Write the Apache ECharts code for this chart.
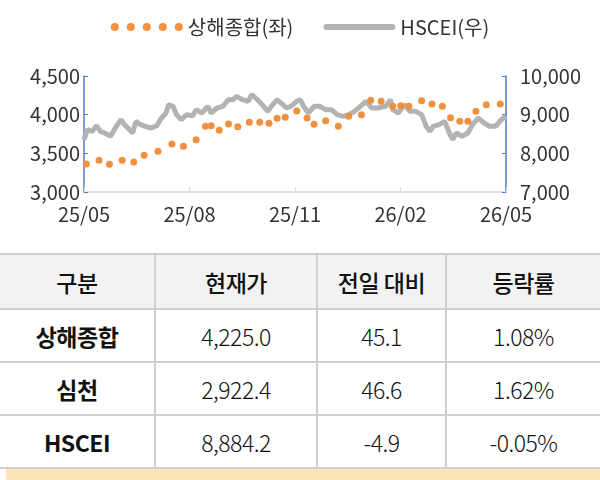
<!DOCTYPE html>
<html>
<head>
<meta charset="utf-8">
<script src="https://cdn.jsdelivr.net/npm/echarts@6/dist/echarts.min.js"></script>
<style>
  body { margin: 0; background: #fff; font-family: "Noto Sans CJK KR", sans-serif; }
  #chart { position: absolute; left: 0; top: 0; width: 600px; height: 245px; }
  #tbl { position: absolute; left: 0; top: 253px; width: 600px; border-collapse: collapse; color: #111; table-layout: fixed; }
  #tbl td, #tbl th { border: 2px solid #cfcfcf; text-align: center; padding: 0; font-size: 23px; letter-spacing: -0.5px; }
  #tbl th { background: #f2f2f2; height: 53px; font-weight: 500; }
  #tbl td { height: 51px; font-weight: 300; }
  #tbl td.name { font-weight: 700; }
  #tbl tr > *:first-child { border-left: none; }
  #tbl tr > *:last-child { border-right: none; }
  #band { position: absolute; left: 6px; top: 469px; width: 594px; height: 11px; background: #fbe4b5; }
</style>
</head>
<body>
<div id="chart"></div>
<table id="tbl"></table>
<div id="band"></div>
<script>
// x: days since 2025-05-01
var xLabels = ['25/05', '25/08', '25/11', '26/02', '26/05'];

var shDays = [2, 13, 22, 33, 43, 52, 64, 76, 86, 97, 105, 110, 117, 125, 133, 143, 152, 160, 167, 174,
  184, 193, 199, 209, 220, 229, 240, 248, 257, 267, 274, 281, 292, 301, 310, 317, 325, 332, 339, 348, 360];
var shValues = [3362, 3409, 3358, 3409, 3388, 3474, 3526, 3621, 3590, 3677, 3849, 3858, 3797, 3879, 3845, 3901, 3901, 3888, 3953, 3966,
  4047, 3957, 3875, 3922, 3849, 3978, 4000, 4185, 4172, 4108, 4116, 4108, 4181, 4138, 4108, 3961, 3914, 3914, 4043, 4129, 4138];

var hsDays = [0, 3, 7, 11, 14, 18, 23, 27, 32, 35, 38, 42, 45, 49, 53, 58, 63, 67, 71, 73, 77, 80, 84, 89, 94, 97, 102, 107, 110, 115,
  120, 125, 129, 132, 137, 142, 145, 150, 154, 159, 162, 167, 172, 175, 179, 184, 187, 190, 194, 199, 204, 209, 214, 219, 224, 229,
  234, 239, 244, 249, 254, 261, 265, 267, 272, 277, 282, 287, 292, 296, 299, 302, 307, 312, 316, 319, 322, 327, 332, 336, 341, 346,
  351, 356, 361, 365];
var hsValues = [8353, 8612, 8569, 8715, 8569, 8526, 8440, 8655, 8871, 8741, 8655, 8526, 8827, 8741, 8698, 8655, 8715, 8914, 9043, 9259,
  9216, 9000, 8871, 9000, 8974, 9129, 9043, 9216, 9043, 9172, 9216, 9388, 9388, 9474, 9388, 9345, 9517, 9388, 9259, 9086, 9216, 9388,
  9259, 9172, 9216, 9345, 9388, 9216, 9043, 9216, 9216, 9129, 9129, 9000, 8957, 9000, 9086, 9216, 9345, 9172, 9172, 9216, 9388, 9129,
  9043, 9259, 9086, 9086, 9000, 8698, 8569, 8698, 8741, 8827, 8526, 8353, 8526, 8440, 8526, 8741, 8914, 8784, 8698, 8698, 8871, 8957];

var tableHead = ['구분', '현재가', '전일 대비', '등락률'];
var tableNames = ['상해종합', '심천', 'HSCEI'];
var tablePrice = ['4,225.0', '2,922.4', '8,884.2'];
var tableChange = ['45.1', '46.6', '-4.9'];
var tableRate = ['1.08%', '1.62%', '-0.05%'];

function pairs(xs, ys) {
  return xs.map(function (x, i) { return [x, ys[i]]; });
}

var font = '"Noto Sans CJK KR", sans-serif';
var myChart = echarts.init(document.getElementById('chart'));
var option = {
  textStyle: { fontFamily: font },
  legend: {
    top: 12,
    left: 'center',
    itemGap: 30,
    itemWidth: 72,
    itemHeight: 9,
    textStyle: { fontSize: 20, color: '#333', fontFamily: font },
    data: [
      { name: '상해종합(좌)', icon: 'path://M0,4a4,4 0 1,0 8,0a4,4 0 1,0 -8,0zM16,4a4,4 0 1,0 8,0a4,4 0 1,0 -8,0zM32,4a4,4 0 1,0 8,0a4,4 0 1,0 -8,0zM48,4a4,4 0 1,0 8,0a4,4 0 1,0 -8,0zM64,4a4,4 0 1,0 8,0a4,4 0 1,0 -8,0z' },
      { name: 'HSCEI(우)', icon: 'path://M3,0h66a3,3 0 0,1 0,6h-66a3,3 0 0,1 0,-6z' }
    ]
  },
  grid: { left: 84, right: 94, top: 76, bottom: 53 },
  xAxis: {
    type: 'value', min: 0, max: 365, interval: 91.25,
    splitLine: { show: false },
    axisLine: { lineStyle: { color: '#d9d9d9', width: 1.5 } },
    axisTick: { show: true, inside: true, length: 5, lineStyle: { color: '#d9d9d9' } },
    axisLabel: {
      fontSize: 20, color: '#333', margin: 12,
      formatter: function (v) { return xLabels[Math.round(v / 91.25)]; }
    }
  },
  yAxis: [
    {
      type: 'value', min: 3000, max: 4500, interval: 500,
      splitLine: { show: false },
      axisLine: { show: true, lineStyle: { color: '#4f81bd', width: 1.5 } },
      axisTick: { show: true, inside: true, length: 4, lineStyle: { color: '#4f81bd' } },
      axisLabel: { fontSize: 20, color: '#333', margin: 4,
        formatter: function (v) { return v.toLocaleString('en-US'); } }
    },
    {
      type: 'value', min: 7000, max: 10000, interval: 1000,
      splitLine: { show: false },
      axisLine: { show: true, lineStyle: { color: '#4f81bd', width: 1.5 } },
      axisTick: { show: true, inside: true, length: 4, lineStyle: { color: '#4f81bd' } },
      axisLabel: { fontSize: 20, color: '#333', margin: 14,
        formatter: function (v) { return v.toLocaleString('en-US'); } }
    }
  ],
  series: [
    {
      name: 'HSCEI(우)', type: 'line', yAxisIndex: 1, showSymbol: false,
      data: pairs(hsDays, hsValues),
      lineStyle: { color: '#b3b3b3', width: 5 },
      itemStyle: { color: '#b3b3b3' },
      z: 2
    },
    {
      name: '상해종합(좌)', type: 'scatter', yAxisIndex: 0, symbolSize: 7,
      data: pairs(shDays, shValues),
      itemStyle: { color: '#f0913f', opacity: 1 },
      z: 3
    }
  ]
};
myChart.setOption(option);

var tbl = document.getElementById('tbl');
var html = '<colgroup><col style="width:155px"><col style="width:162px"><col style="width:129px"><col style="width:154px"></colgroup>';
html += '<tr>' + tableHead.map(function (h) { return '<th>' + h + '</th>'; }).join('') + '</tr>';
tableNames.forEach(function (n, i) {
  html += '<tr><td class="name">' + n + '</td><td>' + tablePrice[i] + '</td><td>' +
    tableChange[i] + '</td><td>' + tableRate[i] + '</td></tr>';
});
tbl.innerHTML = html;
</script>
</body>
</html>
